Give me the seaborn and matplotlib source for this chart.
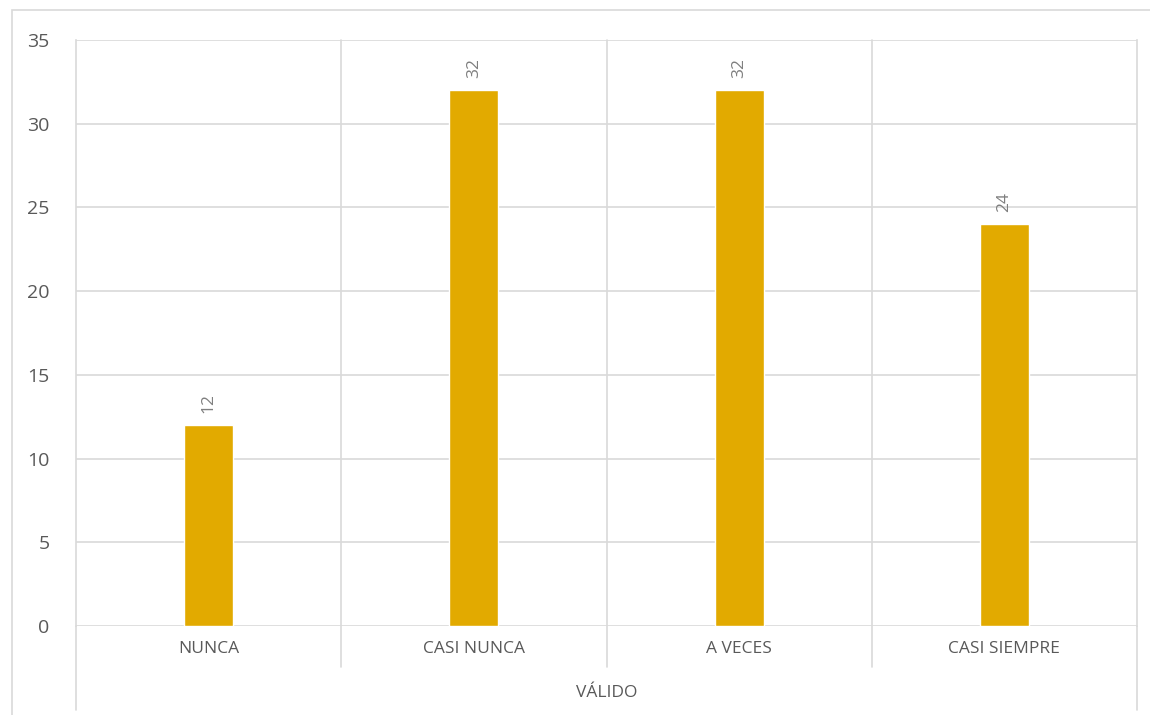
import matplotlib
matplotlib.use("Agg")
import matplotlib.pyplot as plt
import matplotlib.transforms as mtransforms
from matplotlib.patches import Rectangle
import seaborn as sns
import pandas as pd

categories = ["NUNCA", "CASI NUNCA", "A VECES", "CASI SIEMPRE"]
values = [12, 32, 32, 24]
group_label = "VÁLIDO"
y_ticks = [0, 5, 10, 15, 20, 25, 30, 35]

bar_color = "#E2AA00"
grid_color = "#D9D9D9"
text_color = "#595959"
label_color = "#7F7F7F"

sns.set_theme(style="white")
plt.rcParams["font.family"] = ["Open Sans", "DejaVu Sans"]

df = pd.DataFrame({"categoria": categories, "valor": values})

fig = plt.figure(figsize=(11.5, 7.15), dpi=100)
W, H = 1150, 715
ax = fig.add_axes([76 / W, 1 - 626 / H, (1137 - 76) / W, (626 - 40) / H])

# outer chart frame
fig.patches.append(Rectangle((12 / W, -0.1), 1.2, 1 - 10 / H + 0.1,
                             transform=fig.transFigure, fill=False,
                             edgecolor=grid_color, linewidth=1.2, zorder=0))

sns.barplot(data=df, x="categoria", y="valor", color=bar_color,
            width=0.185, saturation=1, ax=ax, zorder=3)

ax.set_xlim(-0.5, len(categories) - 0.5)
ax.set_ylim(0, 35)
ax.set_yticks(y_ticks)
ax.set_yticklabels([str(t) for t in y_ticks], fontsize=14, color=text_color)
ax.tick_params(axis="y", length=8, color=grid_color, width=1.2, pad=11)
ax.tick_params(axis="x", length=0, pad=11)
ax.set_xticks(range(len(categories)))
ax.set_xticklabels(categories, fontsize=12.5, color=text_color)
ax.set_xlabel("")
ax.set_ylabel("")

for s in ["top", "bottom"]:
    ax.spines[s].set_visible(False)
for s in ["left", "right"]:
    ax.spines[s].set_color(grid_color)
    ax.spines[s].set_linewidth(1.2)

# horizontal gridlines
for t in y_ticks:
    ax.axhline(t, color=grid_color, linewidth=1.2, zorder=1)

# category separators, extending below the axis
trans = mtransforms.blended_transform_factory(ax.transData, ax.transAxes)
for b in [0.5, 1.5, 2.5]:
    ax.plot([b, b], [1, -41 / 586], color=grid_color, linewidth=1.2,
            transform=trans, clip_on=False, zorder=1)
for b in [-0.5, len(categories) - 0.5]:
    ax.plot([b, b], [0, -84 / 586], color=grid_color, linewidth=1.2,
            transform=trans, clip_on=False, zorder=1)

# group label under the categories
ax.text(0.5, -67 / 586, group_label, transform=ax.transAxes, ha="center",
        va="center", fontsize=12.5, color=text_color)

# value labels above bars
for i, v in enumerate(values):
    ax.annotate(str(v), (i, v), xytext=(0, 9), textcoords="offset points",
                rotation=90, ha="center", va="bottom", fontsize=12.5,
                color=label_color)

fig.savefig("out.png", dpi=100, facecolor="white")
